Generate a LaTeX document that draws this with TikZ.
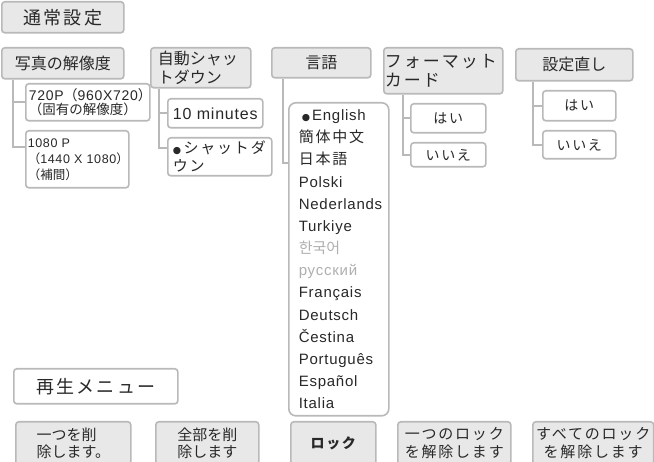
\documentclass[tikz,border=0pt]{standalone}
\usepackage{fontspec}
\setmainfont{Liberation Sans}[LetterSpace=5]
\newfontfamily\jp{Noto Sans CJK JP}
\newfontfamily\jpw{Noto Sans CJK JP}[LetterSpace=12]
\newfontfamily\kr{Noto Sans CJK KR}
\newfontfamily\sym{DejaVu Sans}
\definecolor{boxline}{RGB}{185,185,185}
\definecolor{hdrfill}{RGB}{232,232,232}
\definecolor{ink}{RGB}{40,40,40}
\definecolor{faded}{RGB}{175,175,175}
\newcommand{\fs}[2]{\fontsize{#1}{#2}\selectfont}
\newcommand{\lp}{{\jp（}}
\newcommand{\rp}{{\jp）}}
\newcommand{\seldot}{{\sym\fontsize{9.5}{9.5}\selectfont ●}}

\begin{document}
\begin{tikzpicture}[x=1pt,y=-1pt,
  base/.style={draw=boxline,line width=1.6pt,rounded corners=3pt,text=ink,inner ysep=0pt,anchor=north west},
  hdr/.style={base,fill=hdrfill},
  itm/.style={base,fill=white},
  link/.style={draw=boxline,line width=1.6pt}]
  \useasboundingbox (0,0) rectangle (654,462);

  \node[hdr,minimum width=122pt,minimum height=31pt,font=\jpw\fs{18}{20}] (general) at (1,1) {通常設定};

  \node[hdr,minimum width=122pt,minimum height=31pt,font=\jp\fs{16}{19}] (photo) at (1,47) {写真の解像度};
  \node[itm,text width=118pt,inner xsep=3pt,minimum height=37pt,align=left,font=\fs{14}{13.5}] (res720) at (25,83)
    {\mbox{720P\lp 960X720\rp}\\{\jp\fs{13.5}{13.5}\mbox{（固有の解像度）}}};
  \node[itm,text width=99pt,inner xsep=2pt,minimum height=57pt,align=left,font=\fs{12.5}{16}] (res1080) at (25,130)
    {1080 P\\\mbox{\lp 1440 X 1080\rp}\\{\jp （補間）}};

  \node[hdr,text width=86pt,inner xsep=7pt,minimum height=40pt,align=left,font=\jp\fs{16}{19}] (auto) at (150,47) {自動シャッ\\トダウン};
  \node[itm,minimum width=95pt,minimum height=29pt,font=\fs{16}{19}] (min10) at (167,98) {10 minutes};
  \node[itm,text width=94pt,inner xsep=5pt,minimum height=38pt,align=left,font=\jpw\fs{15}{18}] (shut) at (167,137) {\seldot\,シャットダ\\ウン};

  \node[hdr,minimum width=99pt,minimum height=30pt,font=\jp\fs{16}{19}] (lang) at (271,47) {言語};
  \node[itm,rounded corners=7pt,text width=80pt,inner xsep=10pt,minimum height=313pt,align=left,font=\fs{15}{22.15}] (langs) at (288,102)
    {\hspace*{3pt}\seldot\hspace{2pt}English\\
     {\jpw 簡体中文}\\
     {\jpw 日本語}\\
     Polski\\
     Nederlands\\
     Turkiye\\
     {\kr\color{faded}한국어}\\
     {\color{faded}русский}\\
     Français\\
     Deutsch\\
     Čestina\\
     Português\\
     Español\\
     Italia};

  \node[hdr,text width=117pt,inner xsep=1pt,minimum height=46pt,align=left,font=\jpw\fs{17}{19}] (format) at (383,47) {フォーマット\\カード};
  \node[itm,minimum width=75pt,minimum height=29pt,font=\jpw\fs{14}{16}] (fmtyes) at (410,103) {はい};
  \node[itm,minimum width=75pt,minimum height=24pt,font=\jpw\fs{14}{16}] (fmtno) at (410,142) {いいえ};

  \node[hdr,minimum width=117pt,minimum height=32pt,font=\jp\fs{16}{19}] (reset) at (515,48) {設定直し};
  \node[itm,minimum width=73pt,minimum height=30pt,font=\jpw\fs{14}{16}] (rstyes) at (542,90) {はい};
  \node[itm,minimum width=73pt,minimum height=28pt,font=\jpw\fs{14}{16}] (rstno) at (542,130) {いいえ};

  \node[itm,minimum width=164pt,minimum height=35pt,font=\jpw\fs{18}{20}] (play) at (13,368) {再生メニュー};

  \node[hdr,minimum width=115pt,minimum height=43pt,align=left,font=\jp\fs{15}{17}] (delone) at (15,421) {一つを削\\除します。};
  \node[hdr,minimum width=103pt,minimum height=43pt,align=center,font=\jp\fs{15}{17}] (delall) at (155,421) {全部を削\\除します};
  \node[hdr,minimum width=85pt,minimum height=43pt,font=\jpw\bfseries\fs{14}{16}] (lock) at (290,421) {ロック};
  \node[hdr,minimum width=113pt,minimum height=43pt,align=center,font=\jpw\fs{15}{18}] (unlockone) at (397,421) {一つのロック\\を解除します};
  \node[hdr,minimum width=120pt,minimum height=43pt,align=center,font=\jpw\fs{15}{18}] (unlockall) at (532,421) {すべてのロック\\を解除します};

  \draw[link] ([xshift=12pt]photo.south west) |- (res720.west);
  \draw[link] ([xshift=12pt]photo.south west) |- ([yshift=-17pt]res1080.north west);
  \draw[link] ([xshift=9pt]auto.south west) |- (min10.west);
  \draw[link] ([xshift=9pt]auto.south west) |- ([yshift=-11pt]shut.north west);
  \draw[link] ([xshift=12pt]lang.south west) |- ([yshift=-61pt]langs.north west);
  \draw[link] ([xshift=20pt]format.south west) |- (fmtyes.west);
  \draw[link] ([xshift=20pt]format.south west) |- (fmtno.west);
  \draw[link] ([xshift=18pt]reset.south west) |- (rstyes.west);
  \draw[link] ([xshift=18pt]reset.south west) |- (rstno.west);
\end{tikzpicture}
\end{document}
